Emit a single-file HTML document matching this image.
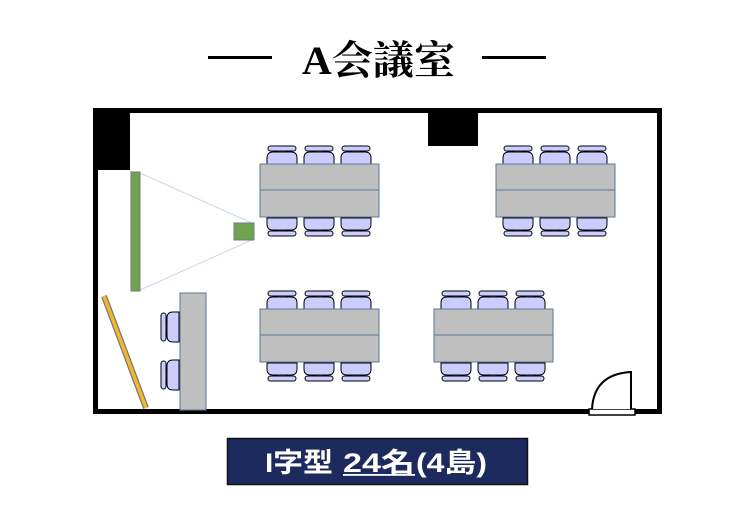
<!DOCTYPE html>
<html><head><meta charset="utf-8"><style>
html,body{margin:0;padding:0;background:#fff;}
body{width:756px;height:525px;overflow:hidden;position:relative;}
</style></head><body>
<svg width="756" height="525" viewBox="0 0 756 525" xmlns="http://www.w3.org/2000/svg" style="position:absolute;left:0;top:0">
<defs>
<g id="ch">
<rect x="-14" y="0" width="28" height="5" rx="2.5" fill="#ccccff" stroke="#000" stroke-width="1"/>
<rect x="-4" y="5" width="8" height="2" fill="#ccccff" stroke="#000" stroke-width="0.8"/>
<path d="M-15,18 V12 Q-15,6 -9,6 H9 Q15,6 15,12 V18 Z" fill="#ccccff" stroke="#000" stroke-width="1"/>
</g>
</defs>
<!-- title -->
<rect x="208" y="56" width="64" height="3" fill="#000"/>
<rect x="482" y="56" width="64" height="3" fill="#000"/>
<text x="302" y="74" textLength="153" lengthAdjust="spacingAndGlyphs" font-family="'Liberation Serif','Noto Serif CJK SC',serif" font-weight="bold" font-size="40">A会議室</text>
<!-- room -->
<rect x="95.5" y="110.5" width="564" height="301" fill="none" stroke="#000" stroke-width="5"/>
<rect x="93" y="108" width="37" height="62" fill="#000"/>
<rect x="428" y="108" width="50" height="38" fill="#000"/>
<!-- screen & projector -->
<line x1="140" y1="173" x2="254" y2="224" stroke="#c8d8ec" stroke-width="1"/>
<line x1="140" y1="290" x2="254" y2="239" stroke="#c8d8ec" stroke-width="1"/>
<rect x="131" y="172" width="9" height="119" fill="#70a350" stroke="#777" stroke-width="1"/>
<rect x="234" y="223" width="20" height="17" fill="#70a350" stroke="#777" stroke-width="1"/>
<!-- yellow board -->
<line x1="104" y1="296" x2="146" y2="408" stroke="#777" stroke-width="6"/>
<line x1="104" y1="296" x2="146" y2="408" stroke="#f0b830" stroke-width="3.5"/>
<!-- left table + chairs -->
<use href="#ch" transform="translate(161,327) rotate(-90)"/>
<use href="#ch" transform="translate(161,375) rotate(-90)"/>
<rect x="180" y="293" width="26" height="117" fill="#bfbfbf" stroke="#5a7a9a" stroke-width="1"/>
<g>
<use href="#ch" transform="translate(282,146)"/><use href="#ch" transform="translate(319,146)"/><use href="#ch" transform="translate(356,146)"/>
<use href="#ch" transform="translate(282,236) scale(1,-1)"/><use href="#ch" transform="translate(319,236) scale(1,-1)"/><use href="#ch" transform="translate(356,236) scale(1,-1)"/>
<rect x="260" y="164" width="119" height="26" fill="#bfbfbf" stroke="#5a7a9a" stroke-width="1"/>
<rect x="260" y="190" width="119" height="27" fill="#bfbfbf" stroke="#5a7a9a" stroke-width="1"/>
</g>
<g transform="translate(236,0)">
<use href="#ch" transform="translate(282,146)"/><use href="#ch" transform="translate(319,146)"/><use href="#ch" transform="translate(356,146)"/>
<use href="#ch" transform="translate(282,236) scale(1,-1)"/><use href="#ch" transform="translate(319,236) scale(1,-1)"/><use href="#ch" transform="translate(356,236) scale(1,-1)"/>
<rect x="260" y="164" width="119" height="26" fill="#bfbfbf" stroke="#5a7a9a" stroke-width="1"/>
<rect x="260" y="190" width="119" height="27" fill="#bfbfbf" stroke="#5a7a9a" stroke-width="1"/>
</g>
<g transform="translate(0,145)">
<use href="#ch" transform="translate(282,146)"/><use href="#ch" transform="translate(319,146)"/><use href="#ch" transform="translate(356,146)"/>
<use href="#ch" transform="translate(282,236) scale(1,-1)"/><use href="#ch" transform="translate(319,236) scale(1,-1)"/><use href="#ch" transform="translate(356,236) scale(1,-1)"/>
<rect x="260" y="164" width="119" height="26" fill="#bfbfbf" stroke="#5a7a9a" stroke-width="1"/>
<rect x="260" y="190" width="119" height="27" fill="#bfbfbf" stroke="#5a7a9a" stroke-width="1"/>
</g>
<g transform="translate(174,145)">
<use href="#ch" transform="translate(282,146)"/><use href="#ch" transform="translate(319,146)"/><use href="#ch" transform="translate(356,146)"/>
<use href="#ch" transform="translate(282,236) scale(1,-1)"/><use href="#ch" transform="translate(319,236) scale(1,-1)"/><use href="#ch" transform="translate(356,236) scale(1,-1)"/>
<rect x="260" y="164" width="119" height="26" fill="#bfbfbf" stroke="#5a7a9a" stroke-width="1"/>
<rect x="260" y="190" width="119" height="27" fill="#bfbfbf" stroke="#5a7a9a" stroke-width="1"/>
</g>
<!-- door -->
<rect x="589" y="409" width="46" height="6" fill="#fff" stroke="#000" stroke-width="1.5"/>
<path d="M592,409 Q594,374 631,372 V409" fill="#fff" stroke="#000" stroke-width="2"/>
<!-- label -->
<rect x="227.5" y="438.5" width="300" height="46" fill="#1c2a5e" stroke="#111" stroke-width="1.5"/>
<g font-family="'Liberation Sans','Noto Sans CJK JP',sans-serif" font-weight="bold" font-size="27" fill="#fff">
<text x="265" y="472" textLength="68" lengthAdjust="spacingAndGlyphs">I字型</text>
<text x="343" y="472" textLength="72" lengthAdjust="spacingAndGlyphs">24名</text>
<text x="416" y="472" textLength="71" lengthAdjust="spacingAndGlyphs">(4島)</text>
</g>
<rect x="343" y="474" width="72" height="1.8" fill="#fff"/>
</svg>
</body></html>
